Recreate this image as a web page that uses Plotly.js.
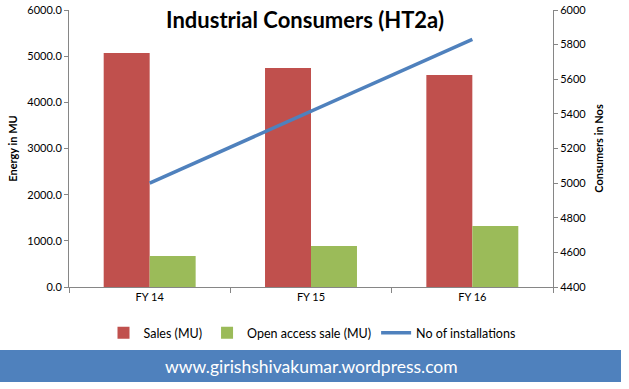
<!DOCTYPE html>
<html><head><meta charset="utf-8">
<script src="https://cdn.plot.ly/plotly-3.0.1.min.js"></script>
<style>html,body{margin:0;padding:0;background:#fff}#chart{width:629px;height:389px}</style>
</head><body><div id="chart"></div>
<script>
var categories = ["FY 14", "FY 15", "FY 16"];
var sales = [5069, 4744, 4592];
var openAccess = [671, 888, 1321];
var installations = [5000, 5414, 5830];
var leftTicks = [0, 1000, 2000, 3000, 4000, 5000, 6000];
var rightTicks = [4400, 4600, 4800, 5000, 5200, 5400, 5600, 5800, 6000];

var F = "Lato, 'Open Sans', sans-serif";
var L = 69, R = 553, T = 10, B = 287;
var W = R - L, H = B - T;
function px(x){ return (x - L) / W; }
function py(y){ return (B - y) / H; }

var traces = [
  {type:"bar", name:"Sales (MU)", x:categories, y:sales, marker:{color:"#c0504d"}},
  {type:"bar", name:"Open access sale (MU)", x:categories, y:openAccess, marker:{color:"#9bbb59"}},
  {type:"scatter", mode:"lines", name:"No of installations", x:categories, y:installations, yaxis:"y2",
   line:{color:"#4f81bd", width:3.5}}
];

var layout = {
  width:629, height:389,
  margin:{l:L, r:629-R, t:T, b:389-B},
  paper_bgcolor:"#fff", plot_bgcolor:"#fff",
  font:{family:F, size:11, color:"#000"},
  barmode:"group", bargap:0.43, bargroupgap:0,
  showlegend:true,
  legend:{orientation:"h", x:px(312), xanchor:"center", y:py(333), yanchor:"middle",
          font:{family:F, size:12.5, color:"#000"}, itemwidth:30, tracegroupgap:0},
  xaxis:{type:"category", showline:true, linecolor:"#868686", linewidth:1,
         ticks:"outside", ticklen:5, tickcolor:"#868686", tickson:"boundaries",
         tickfont:{family:F, size:11}, showgrid:false, zeroline:false, fixedrange:true},
  yaxis:{range:[0,6000], tickvals:leftTicks, ticktext:leftTicks.map(function(v){return v.toFixed(1);}),
         showline:true, linecolor:"#868686", ticks:"outside", ticklen:4, tickcolor:"#868686",
         showgrid:false, zeroline:false, tickfont:{family:F, size:11},
         title:{text:"<b>Energy in MU</b>", font:{family:F, size:11}, standoff:7}},
  yaxis2:{overlaying:"y", side:"right", range:[4400,6000], tickvals:rightTicks,
          showline:true, linecolor:"#868686", ticks:"outside", ticklen:4, tickcolor:"#868686",
          showgrid:false, zeroline:false, tickfont:{family:F, size:11},
          title:{text:"<b>Consumers in Nos</b>", font:{family:F, size:11}, standoff:9}},
  title:{text:"<b>Industrial Consumers (HT2a)</b>", font:{family:F, size:22, color:"#000"},
         x:px(305), xref:"paper", xanchor:"center", y:1-20/389, yref:"container", yanchor:"middle"},
  shapes:[
    {type:"rect", xref:"paper", yref:"paper", x0:px(0), x1:px(621), y0:py(382), y1:py(350),
     fillcolor:"#4f81bd", line:{width:0}, layer:"below"}
  ],
  annotations:[
    {text:"www.girishshivakumar.wordpress.com", xref:"paper", yref:"paper", x:px(311), y:py(366),
     xanchor:"center", yanchor:"middle", showarrow:false, font:{family:F, size:17.5, color:"#fff"}}
  ]
};

Plotly.newPlot("chart", traces, layout, {displayModeBar:false, staticPlot:true});
</script></body></html>
